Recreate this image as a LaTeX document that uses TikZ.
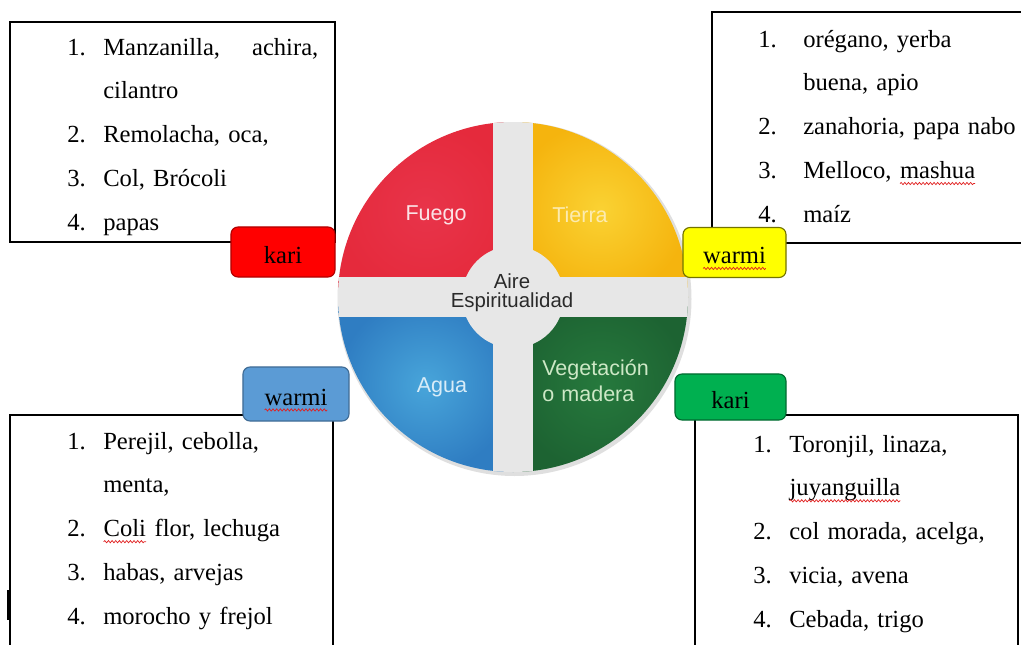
\documentclass[tikz,border=0pt]{standalone}
\usepackage{fontspec}
\setmainfont{Liberation Serif}
\setsansfont{Liberation Sans}
\usetikzlibrary{positioning, decorations.pathmorphing}
\definecolor{fuegored}{HTML}{E52A3C}
\definecolor{fuegoin}{HTML}{E8344A}
\definecolor{tierrayel}{HTML}{F5B40E}
\definecolor{tierrain}{HTML}{FAD233}
\definecolor{aguablue}{HTML}{2F7DC2}
\definecolor{aguain}{HTML}{48A5DA}
\definecolor{veggreen}{HTML}{1D6332}
\definecolor{vegin}{HTML}{26793D}
\definecolor{crossgray}{HTML}{E7E7E7}
\definecolor{fuegotxt}{HTML}{FBE3E6}
\definecolor{tierratxt}{HTML}{FCEBB0}
\definecolor{aguatxt}{HTML}{D8ECF8}
\definecolor{vegtxt}{HTML}{CDE8C6}
\definecolor{airetxt}{HTML}{2A2A2A}
\definecolor{karired}{HTML}{FF0000}
\definecolor{warmiyel}{HTML}{FFFF00}
\definecolor{warmiblue}{HTML}{5B9BD5}
\definecolor{karigreen}{HTML}{00B050}
\definecolor{spellred}{HTML}{E02020}
\newcommand{\spell}[1]{\tikz[baseline=(w.base)]{\node[inner sep=0pt, outer sep=0pt, minimum width=0pt, minimum height=0pt, text width={}, text height={}, text depth={}, draw=none, fill=none] (w) {#1};
	\draw[spellred, line width=0.5pt, sharp corners, decorate, decoration={snake, amplitude=0.8pt, segment length=2.6pt}] ([yshift=-3.5pt]w.base west) -- ([yshift=-3.5pt]w.base east);}}
\newcommand{\itm}[3][0.9cm]{\makebox[#1][l]{#2}#3}
\newcommand{\cnt}[2][0.9cm]{\hspace*{#1}#2}

\begin{document}
\begin{tikzpicture}[x=0.025cm, y=0.025cm,
	listbox/.style={draw=black, line width=0.9pt, inner sep=0pt},
	listtxt/.style={anchor=base west, align=left, text width=8cm, inner sep=0pt, font=\fontsize{17.5}{31.2}\selectfont},
	tag/.style={rounded corners=5pt, line width=0.8pt, minimum height=1.25cm, inner sep=0pt, text height=0.55cm, text depth=0cm, font=\fontsize{17.5}{20}\selectfont},
	quad/.style={font=\sffamily\fontsize{15.3}{19}\selectfont, anchor=base}]
	\useasboundingbox (0,0) rectangle (1021,-645);
	% list boxes
	\node[listbox, minimum width=8.125cm, minimum height=5.5cm] (boxtl) at (172.5,-132) {};
	\node[listbox, minimum width=7.95cm, minimum height=5.775cm] (boxtr) at (871,-127.5) {};
	\node[listbox, minimum width=8.075cm, minimum height=6.125cm] (boxbl) at (171.5,-537.5) {};
	\node[listbox, minimum width=8.075cm, minimum height=6.125cm] (boxbr) at (856.5,-537.5) {};
	\fill (7,-590) rectangle (10.5,-620);
	\node[listtxt] (listtl) at (67,-55) {\itm{1.}{\makebox[5.375cm][l]{Manzanilla,\hfill achira,}}\\ \cnt{cilantro}\\ \itm{2.}{Remolacha, oca,}\\ \itm{3.}{Col, Brócoli}\\ \itm{4.}{papas}};
	\node[listtxt] (listtr) at (758,-47) {\itm[1.125cm]{1.}{orégano, yerba}\\ \cnt[1.125cm]{buena, apio}\\ \itm[1.125cm]{2.}{zanahoria, papa nabo}\\ \itm[1.125cm]{3.}{Melloco, \spell{mashua}}\\ \itm[1.125cm]{4.}{maíz}};
	\node[listtxt] (listbl) at (67,-449) {\itm{1.}{Perejil, cebolla,}\\ \cnt{menta,}\\ \itm{2.}{\spell{Coli} flor, lechuga}\\ \itm{3.}{habas, arvejas}\\ \itm{4.}{morocho y frejol}};
	\node[listtxt] (listbr) at (753,-452) {\itm{1.}{Toronjil, linaza,}\\ \cnt{\spell{juyanguilla}}\\ \itm{2.}{col morada, acelga,}\\ \itm{3.}{vicia, avena}\\ \itm{4.}{Cebada, trigo}};
	% wheel
	\coordinate (ctr) at (513,-297);
	\fill[gray!25] (514.5,-299) circle[radius=177];
	\shade[inner color=fuegoin, outer color=fuegored] (ctr) -- ++(180:175) arc[start angle=180, end angle=90, radius=175] -- cycle;
	\shade[inner color=tierrain, outer color=tierrayel] (ctr) -- ++(90:175) arc[start angle=90, end angle=0, radius=175] -- cycle;
	\shade[inner color=aguain, outer color=aguablue] (ctr) -- ++(180:175) arc[start angle=180, end angle=270, radius=175] -- cycle;
	\shade[inner color=vegin, outer color=veggreen] (ctr) -- ++(270:175) arc[start angle=270, end angle=360, radius=175] -- cycle;
	\begin{scope}
		\clip (ctr) circle[radius=175];
		\fill[crossgray] (493,-100) rectangle (533,-500);
		\fill[crossgray] (300,-277) rectangle (720,-317);
	\end{scope}
	\fill[crossgray] (ctr) circle[radius=51];
	\node[quad, text=fuegotxt] (fuego) at (436,-220) {Fuego};
	\node[quad, text=tierratxt] (tierra) at (580,-222) {Tierra};
	\node[quad, text=aguatxt] (agua) at (442,-392) {Agua};
	\node[quad, text=vegtxt, anchor=base west, align=left, text width=3cm, inner sep=0pt] (veg) at (542,-375) {Vegetación\\o madera};
	\node[font=\sffamily\fontsize{14.5}{14}\selectfont, text=airetxt, anchor=base, align=center, text width=4cm, inner sep=0pt] (aire) at (512,-288) {Aire\\Espiritualidad};
	% tags
	\node[tag, minimum width=2.6cm, fill=karired, draw=karired!70!black] (karitl) at (283,-252) {kari};
	\node[tag, minimum width=2.575cm, fill=warmiyel, draw=warmiyel!45!black] (warmitr) at (734.5,-252.5) {\spell{warmi}};
	\node[tag, minimum width=2.65cm, minimum height=1.35cm, fill=warmiblue, draw=warmiblue!70!black] (warmibl) at (296,-394) {\spell{warmi}};
	\node[tag, minimum width=2.775cm, minimum height=1.15cm, fill=karigreen, draw=karigreen!60!black] (karibr) at (730.5,-397) {kari};
\end{tikzpicture}
\end{document}
